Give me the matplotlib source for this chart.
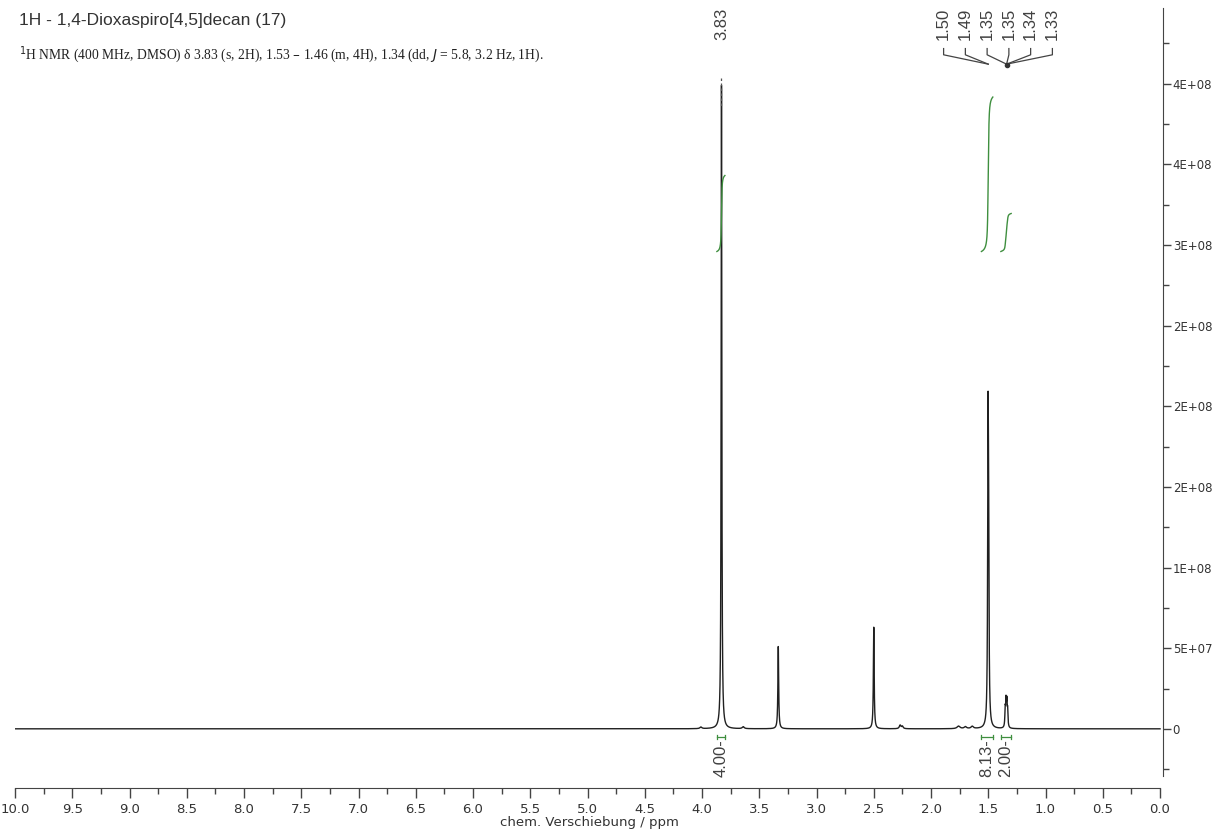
import numpy as np
import matplotlib
matplotlib.use('Agg')
import matplotlib.pyplot as plt
from matplotlib.ticker import FixedLocator, FuncFormatter

title = '1H - 1,4-Dioxaspiro[4,5]decan (17)'
report = (r'$^{1}$H NMR (400 MHz, DMSO) δ 3.83 (s, 2H), 1.53 – 1.46 (m, 4H), '
          r'1.34 (dd, $J$ = 5.8, 3.2 Hz, 1H).')

# peak list: shift / ppm, height, half width / ppm
peak_ppm = [3.830, 3.334, 2.500, 1.502, 1.497, 1.352, 1.345, 1.338, 1.331,
            4.01, 3.64, 2.27, 2.25, 1.76, 1.70, 1.64]
peak_height = [3.99e8, 5.1e7, 6.3e7, 1.70e8, 0.95e8, 1.1e7, 1.5e7, 1.45e7, 1.0e7,
               1.0e6, 1.2e6, 2.2e6, 1.5e6, 1.6e6, 1.2e6, 1.4e6]
peak_hwhm = [0.0035, 0.004, 0.004, 0.004, 0.004, 0.0035, 0.0035, 0.0035, 0.0035,
             0.01, 0.01, 0.008, 0.008, 0.015, 0.012, 0.012]

# integrals: range (ppm) and value
int_lo = [3.80, 1.46, 1.30]
int_hi = [3.87, 1.56, 1.39]
int_val = [4.00, 8.13, 2.00]

# peak labels at the top
lbl_text = ['1.50', '1.49', '1.35', '1.35', '1.34', '1.33']
lbl_ppm = [1.50, 1.50, 1.34, 1.34, 1.34, 1.34]

x_major = [10.0, 9.5, 9.0, 8.5, 8.0, 7.5, 7.0, 6.5, 6.0, 5.5, 5.0, 4.5, 4.0,
           3.5, 3.0, 2.5, 2.0, 1.5, 1.0, 0.5, 0.0]
y_major = [0, 5e7, 1e8, 1.5e8, 2e8, 2.5e8, 3e8, 3.5e8, 4e8]

ppm = np.linspace(10.0, 0.0, 40001)
spec = np.zeros_like(ppm)
for c, h, w in zip(peak_ppm, peak_height, peak_hwhm):
    spec += h * w**2 / ((ppm - c)**2 + w**2)

fig = plt.figure(figsize=(12.16, 8.34), dpi=100)
# 10 ppm at x=15 px, 0 ppm at 1160 px, y axis line at 1163 px
ax = fig.add_axes([15/1216, 46/834, 1148/1216, 780/834])
ax.set_xlim(10.0, -0.026)
ax.set_ylim(-0.367e8, 4.47e8)

ax.plot(ppm, spec, color='#202020', lw=1.0)

green = '#3f8f3f'
int_base = 2.96e8
int_scale = 0.1178e8
trans = ax.get_xaxis_transform()
for lo, hi, val in zip(int_lo, int_hi, int_val):
    m = (ppm >= lo) & (ppm <= hi)
    xs = ppm[m]
    cum = np.cumsum(spec[m])
    cum = cum / cum[-1] * val * int_scale
    ax.plot(xs, int_base + cum, color=green, lw=1.0)
    # bracket under the baseline
    yb = -0.05e8
    ax.plot([hi, lo], [yb, yb], color=green, lw=0.9)
    ax.plot([hi, hi], [yb - 0.012e8, yb + 0.012e8], color=green, lw=0.9)
    ax.plot([lo, lo], [yb - 0.012e8, yb + 0.012e8], color=green, lw=0.9)
    mid = (lo + hi) / 2
    ax.text(mid, yb - 0.015e8, '%.2f-' % val, rotation=90, ha='center', va='top',
            fontsize=12, color='#404040', family='Liberation Sans')

# 3.83 label with dotted connector
ax.text(3.83, 1.0, '3.83', transform=trans, rotation=90,
        ha='center', va='top', fontsize=12, color='#404040', family='Liberation Sans')
ax.plot([3.83, 3.83], [0.91, 0.875], transform=trans, color='#555555', lw=0.9,
        ls=(0, (2, 2)))

# multiplet labels spread out, connectors converging on the peaks
n = len(lbl_text)
spread = np.linspace(1.89, 0.94, n)
for s, t, p in zip(spread, lbl_text, lbl_ppm):
    ax.text(s, 1.0, t, transform=trans, rotation=90, ha='center', va='top',
            fontsize=12, color='#404040', family='Liberation Sans')
    ax.plot([s, s, p], [0.948, 0.94, 0.928], transform=trans, color='#444444', lw=0.9)
ax.plot([1.34], [0.927], 'o', ms=3, color='#333333', transform=trans)

for side in ['left', 'top']:
    ax.spines[side].set_visible(False)
ax.spines['right'].set_bounds(-0.29e8, 4.47e8)
ax.spines['bottom'].set_bounds(0.0, 10.0)
for side in ['right', 'bottom']:
    ax.spines[side].set_color('#444444')

ax.xaxis.set_major_locator(FixedLocator(x_major))
ax.xaxis.set_minor_locator(FixedLocator(np.arange(0.25, 10.0, 0.5)))
ax.xaxis.set_major_formatter(FuncFormatter(lambda v, p: '%.1f' % v))
ax.tick_params(axis='x', which='major', direction='out', length=7, width=1,
               color='#444444', labelsize=9.5, labelcolor='#333333', pad=4)
ax.tick_params(axis='x', which='minor', direction='out', length=4, width=1,
               color='#444444')

ax.yaxis.tick_right()
ax.yaxis.set_major_locator(FixedLocator(y_major))
ax.yaxis.set_minor_locator(FixedLocator(np.arange(-2.5e7, 4.5e8, 5e7)))
ax.yaxis.set_major_formatter(FuncFormatter(lambda v, p: '0' if v == 0 else '%.0E' % v))
ax.tick_params(axis='y', which='major', direction='out', length=6, width=1,
               color='#444444', labelsize=8.5, labelcolor='#333333', pad=1)
ax.tick_params(axis='y', which='minor', direction='out', length=4, width=1,
               color='#444444')

ax.set_xlabel('chem. Verschiebung / ppm', fontsize=9.5, color='#333333', labelpad=0)

fig.text(19/1216, 1 - 20/834, title, fontsize=12.5, color='#333333',
         family='Liberation Sans', va='center', ha='left')
fig.text(19/1216, 1 - 55/834, report, fontsize=9.8, color='#222222',
         family='Liberation Serif', va='center', ha='left')

fig.savefig('out.png', dpi=100)
